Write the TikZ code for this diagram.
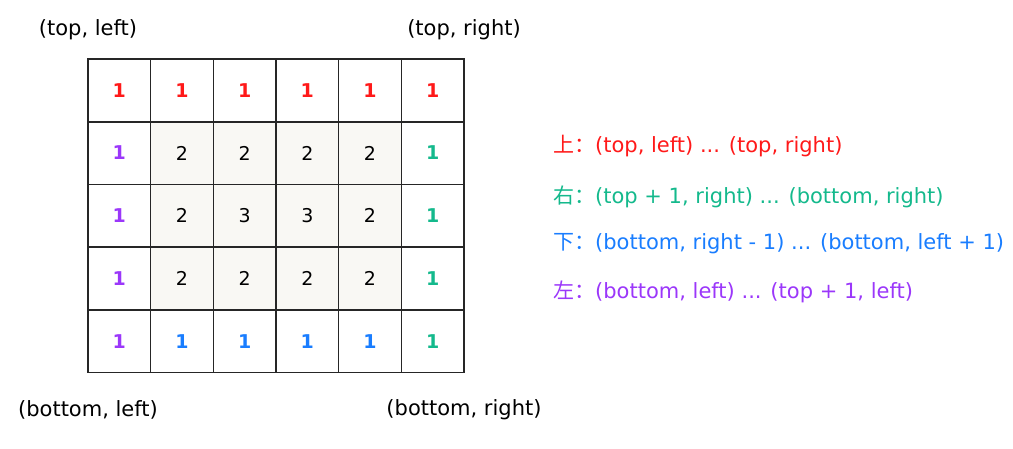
\documentclass[tikz,border=0pt]{standalone}
\usepackage{fontspec}
\setmainfont{DejaVu Sans}
\newfontfamily\cjk{Noto Sans CJK SC}
\usepackage{tikz}
\usetikzlibrary{positioning}

\definecolor{topred}{RGB}{255,25,25}
\definecolor{rightgreen}{RGB}{20,185,140}
\definecolor{bottomblue}{RGB}{25,125,255}
\definecolor{leftpurple}{RGB}{155,55,250}
\definecolor{innerfill}{RGB}{249,248,244}

\begin{document}
\begin{tikzpicture}[x=1pt, y=-1pt]

        % Define styles
        \tikzstyle{cell} = [draw=black!85, line width=1.5pt, minimum width=62.67pt, minimum height=62.6pt, inner sep=0pt, font=\fontsize{19}{19}\selectfont\bfseries]
        \tikzstyle{innercell} = [cell, fill=innerfill, font=\fontsize{19}{19}\selectfont]
        \tikzstyle{corner} = [font=\fontsize{21}{21}\selectfont]
        \tikzstyle{rule} = [anchor=west, inner sep=0pt, font=\fontsize{21}{21}\selectfont]

        \useasboundingbox (0,0) rectangle (1013,448);

        % Top row
        \foreach \c in {1,...,6}
            \node [cell, text=topred] (c-1-\c) at ({88+62.67*(\c-0.5)}, {59+62.7*0.5}) {1};

        % Middle rows
        \foreach \r/\vals in {2/{2,2,2,2}, 3/{2,3,3,2}, 4/{2,2,2,2}} {
            \node [cell, text=leftpurple] (c-\r-1) at ({88+62.67*0.5}, {59+62.7*(\r-0.5)}) {1};
            \foreach \v [count=\c from 2] in \vals
                \node [innercell] (c-\r-\c) at ({88+62.67*(\c-0.5)}, {59+62.7*(\r-0.5)}) {\v};
            \node [cell, text=rightgreen] (c-\r-6) at ({88+62.67*5.5}, {59+62.7*(\r-0.5)}) {1};
        }

        % Bottom row
        \node [cell, text=leftpurple] (c-5-1) at ({88+62.67*0.5}, {59+62.7*4.5}) {1};
        \foreach \c in {2,...,5}
            \node [cell, text=bottomblue] (c-5-\c) at ({88+62.67*(\c-0.5)}, {59+62.7*4.5}) {1};
        \node [cell, text=rightgreen] (c-5-6) at ({88+62.67*5.5}, {59+62.7*4.5}) {1};

        % Corner labels
        \node [corner] (topleft) at (88, 30) {(top, left)};
        \node [corner] (topright) at (464, 30) {(top, right)};
        \node [corner] (bottomleft) at (88, 410) {(bottom, left)};
        \node [corner] (bottomright) at (464, 410) {(bottom, right)};

        % Traversal order
        \node [rule, text=topred] (ruletop) at (553, 146) {{\cjk 上：}(top, left) ... (top, right)};
        \node [rule, text=rightgreen] (ruleright) at (553, 197) {{\cjk 右：}(top + 1, right) ... (bottom, right)};
        \node [rule, text=bottomblue] (rulebottom) at (553, 244) {{\cjk 下：}(bottom, right - 1) ... (bottom, left + 1)};
        \node [rule, text=leftpurple] (ruleleft) at (553, 292) {{\cjk 左：}(bottom, left) ... (top + 1, left)};

\end{tikzpicture}
\end{document}
